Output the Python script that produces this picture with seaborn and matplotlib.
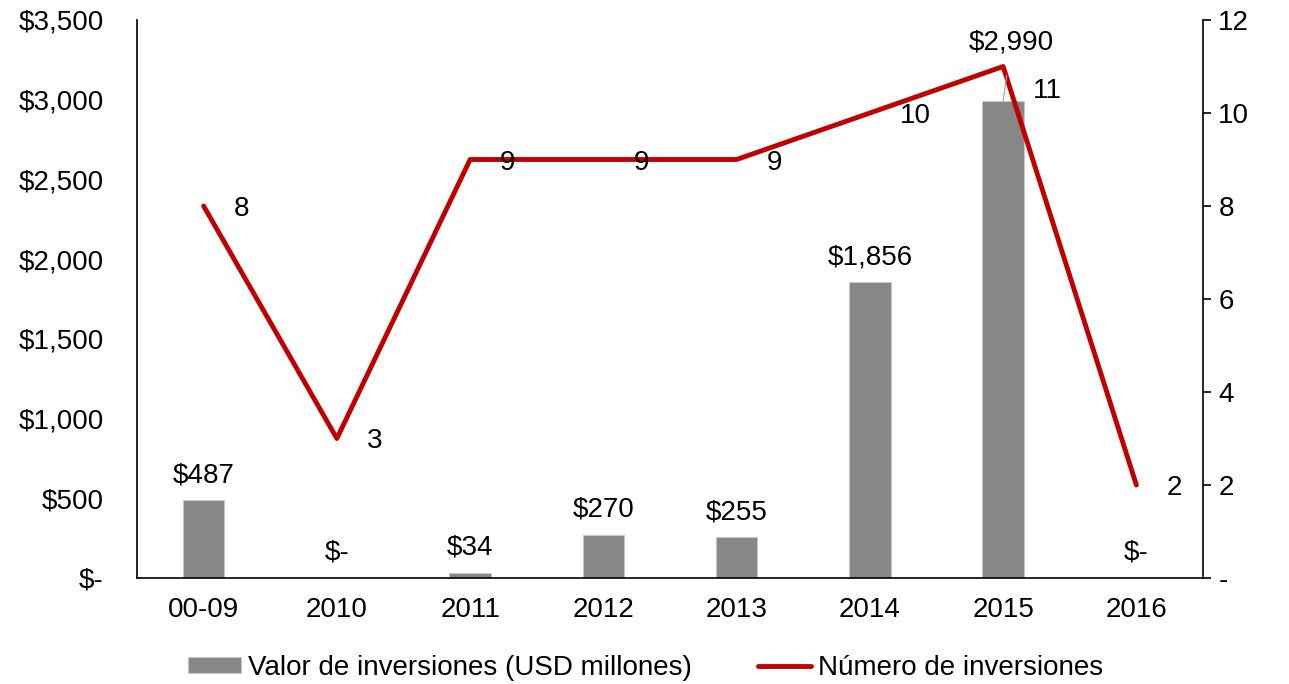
import numpy as np
import pandas as pd
import seaborn as sns
import matplotlib.pyplot as plt

# datos
periodos = ["00-09", "2010", "2011", "2012", "2013", "2014", "2015", "2016"]
valor_usd = [487, 0, 34, 270, 255, 1856, 2990, 0]
num_inversiones = [8, 3, 9, 9, 9, 10, 11, 2]

left_ticks = [0, 500, 1000, 1500, 2000, 2500, 3000, 3500]
left_labels = ["$-", "$500", "$1,000", "$1,500", "$2,000", "$2,500", "$3,000", "$3,500"]
right_ticks = [0, 2, 4, 6, 8, 10, 12]
right_labels = ["-", "2", "4", "6", "8", "10", "12"]

df = pd.DataFrame({"Periodo": periodos, "Valor": valor_usd, "Numero": num_inversiones})

sns.set_theme(style="white")
plt.rcParams["font.family"] = ["Liberation Sans", "DejaVu Sans"]
plt.rcParams["text.color"] = "black"
fs = 20

fig = plt.figure(figsize=(12.89, 6.84), dpi=100)
ax = fig.add_axes([137 / 1289, 106 / 684, 1066 / 1289, 558 / 684])

sns.barplot(data=df, x="Periodo", y="Valor", ax=ax, color="#878787", saturation=1,
            width=0.31, edgecolor="#c8c8c8", linewidth=0.8,
            label="Valor de inversiones (USD millones)")
if ax.get_legend() is not None:
    ax.get_legend().remove()
ax.set_ylim(0, 3500)
ax.set_xlim(-0.5, 7.5)
ax.set_yticks(left_ticks)
ax.set_yticklabels(left_labels)
ax.set_xlabel("")
ax.set_ylabel("")
ax.tick_params(axis="y", length=0, pad=24, labelsize=fs, labelcolor="black")
ax.tick_params(axis="x", length=0, pad=14, labelsize=fs, labelcolor="black")
for s in ["top", "right"]:
    ax.spines[s].set_visible(False)
for s in ["left", "bottom"]:
    ax.spines[s].set_color("black")
    ax.spines[s].set_linewidth(1.2)

ax2 = ax.twinx()
sns.lineplot(data=df, x="Periodo", y="Numero", ax=ax2, color="#c00000", linewidth=3.5,
             label="Número de inversiones", legend=False)
ax2.set_ylim(0, 12)
ax2.set_yticks(right_ticks)
ax2.set_yticklabels(right_labels)
ax2.set_ylabel("")
ax2.tick_params(axis="y", length=6, width=1.2, pad=5, labelsize=fs,
                color="black", labelcolor="black", direction="out")
for s in ["top", "left", "bottom"]:
    ax2.spines[s].set_visible(False)
ax2.spines["right"].set_color("black")
ax2.spines["right"].set_linewidth(1.2)

# etiquetas de barras
for i, v in enumerate(valor_usd):
    txt = "$-" if v == 0 else f"${v:,}"
    if v == 2990:
        ax2.annotate(txt, xy=(i, v / 3500 * 12), xytext=(8, 59), textcoords="offset pixels",
                     ha="center", va="center", fontsize=fs, zorder=10,
                     arrowprops=dict(arrowstyle="-", color="#a6a6a6", lw=0.9, shrinkA=12, shrinkB=0))
    else:
        ax2.annotate(txt, xy=(i, v / 3500 * 12), xytext=(0, 25), textcoords="offset pixels",
                     ha="center", va="center", fontsize=fs, zorder=10)

# etiquetas de la línea
for i, n in enumerate(num_inversiones):
    dy = -24 if n == 11 else -3
    ax2.annotate(str(n), xy=(i, n), xytext=(30, dy), textcoords="offset pixels",
                 ha="left", va="center", fontsize=fs, zorder=10)

h1, l1 = ax.get_legend_handles_labels()
h2, l2 = ax2.get_legend_handles_labels()
fig.legend(h1 + h2, l1 + l2, loc="center", bbox_to_anchor=(0.501, 16 / 684), ncol=2,
           frameon=False, fontsize=fs, handlelength=1.9, handleheight=0.5,
           handletextpad=0.25, columnspacing=2.4)

fig.savefig("out.png", dpi=100)
